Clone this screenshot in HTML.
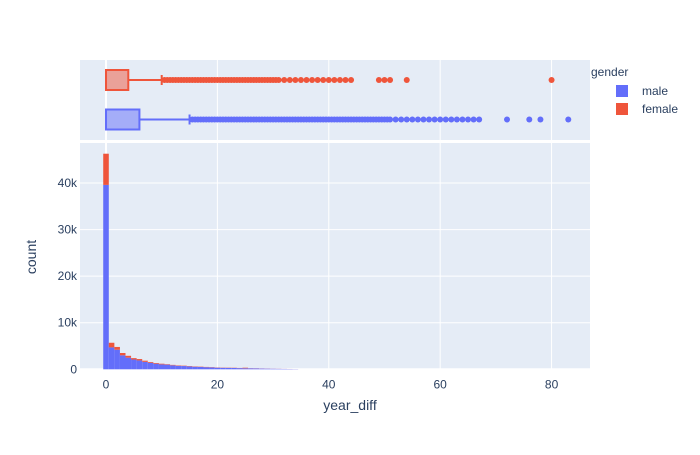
<!DOCTYPE html>
<html><head><meta charset="utf-8"><style>
body{margin:0;background:#fff;font-family:"Liberation Sans",sans-serif}
svg text{font-family:"Liberation Sans",sans-serif;fill:#2a3f5f}
</style></head><body>
<svg id="c" width="700" height="450" xmlns="http://www.w3.org/2000/svg"></svg>
<script>
const bins=[0,1,2,3,4,5,6,7,8,9,10,11,12,13,14,15,16,17,18,19,20,21,22,23,24,25,26,27,28,29,30,31,32,33,34];
const maleCounts=[39600,4700,4200,3000,2500,2100,1900,1600,1400,1200,1050,1000,850,750,700,600,550,500,450,400,350,320,300,280,250,220,200,180,160,140,120,100,80,60,40];
const femaleCounts=[6700,1000,600,500,400,300,300,250,170,150,150,100,100,90,80,80,70,70,60,60,50,50,50,50,40,120,30,30,20,20,15,15,10,10,5];
const xTicks=[0,20,40,60,80];
const yTicks=[0,10000,20000,30000,40000];
const yTickLabels=["0","10k","20k","30k","40k"];
const femaleBox={min:0,q1:0,median:0,q3:4,whisker:10};
const maleBox={min:0,q1:0,median:0,q3:6,whisker:15};
const femaleOutliers=[10.5,11,11.5,12,12.5,13,13.5,14,14.5,15,15.5,16,16.5,17,17.5,18,18.5,19,19.5,20,20.5,21,21.5,22,22.5,23,23.5,24,24.5,25,25.5,26,26.5,27,27.5,28,28.5,29,29.5,30,30.5,31,32,33,34,35,36,37,38,39,40,41,42,43,44,49,50,51,54,80];
const maleOutliers=[15.5,16,16.5,17,17.5,18,18.5,19,19.5,20,20.5,21,21.5,22,22.5,23,23.5,24,24.5,25,25.5,26,26.5,27,27.5,28,28.5,29,29.5,30,30.5,31,31.5,32,32.5,33,33.5,34,34.5,35,35.5,36,36.5,37,37.5,38,38.5,39,39.5,40,40.5,41,41.5,42,42.5,43,43.5,44,44.5,45,45.5,46,46.5,47,47.5,48,48.5,49,49.5,50,50.5,51,52,53,54,55,56,57,58,59,60,61,62,63,64,65,66,67,72,76,78,83];

const svg=document.getElementById('c');
const NS='http://www.w3.org/2000/svg';
function mk(t,a,p){const e=document.createElementNS(NS,t);for(const k in a)e.setAttribute(k,a[k]);(p||svg).appendChild(e);return e;}
const L=80,R=590,xmin=-4.67,xmax=86.9;
const X=v=>L+(v-xmin)/(xmax-xmin)*(R-L);
const hTop=143,hBot=369.3,ymax=48600;
const Y=v=>hBot-v/ymax*(hBot-hTop);
const C1='#636efa',C2='#EF553B';

let e;
e=mk('rect',{x:L,y:60,width:R-L,height:80,fill:'#e5ecf6'});

e=mk('rect',{x:L,y:hTop,width:R-L,height:hBot-hTop,fill:'#e5ecf6'});


xTicks.forEach(t=>{
  [[60,140],[hTop,hBot]].forEach(r=>{
    const g=mk('line',{x1:X(t),x2:X(t),y1:r[0],y2:r[1],stroke:'#fff','stroke-width':t===0?2:1});
    
  });
  const tx=mk('text',{x:X(t),y:hBot+19,'text-anchor':'middle','font-size':12});tx.textContent=t;
  
});
yTicks.forEach((t,i)=>{
  const g=mk('line',{x1:L,x2:R,y1:Y(t),y2:Y(t),stroke:'#fff','stroke-width':t===0?2:1});
  
  const tx=mk('text',{x:L-3,y:Y(t)+4,'text-anchor':'end','font-size':12});tx.textContent=yTickLabels[i];
  
});

bins.forEach((b,i)=>{
  const x0=X(b-0.5),w=X(b+0.5)-x0;
  const m=mk('rect',{x:x0,y:Y(maleCounts[i]),width:w,height:hBot-Y(maleCounts[i]),fill:C1});
  
  const top=maleCounts[i]+femaleCounts[i];
  const f=mk('rect',{x:x0,y:Y(top),width:w,height:Y(maleCounts[i])-Y(top),fill:C2});
  
});

function box(bx,outs,cy,col,fill,name){
  const h=20;
  const w=mk('line',{x1:X(bx.q3),x2:X(bx.whisker),y1:cy,y2:cy,stroke:col,'stroke-width':2});
  
  const cap=mk('line',{x1:X(bx.whisker),x2:X(bx.whisker),y1:cy-5,y2:cy+5,stroke:col,'stroke-width':2});
  
  const r=mk('rect',{x:X(bx.q1),y:cy-h/2,width:X(bx.q3)-X(bx.q1),height:h,fill:fill,stroke:col,'stroke-width':2});
  
  const md=mk('line',{x1:X(bx.median),x2:X(bx.median),y1:cy-h/2,y2:cy+h/2,stroke:col,'stroke-width':2});
  
  outs.forEach(o=>{
    const c=mk('circle',{cx:X(o),cy:cy,r:3,fill:col});
    
  });
}
box(femaleBox,femaleOutliers,80,C2,'rgba(239,85,59,0.5)','female');
box(maleBox,maleOutliers,119.5,C1,'rgba(99,110,250,0.5)','male');

e=mk('text',{x:350,y:410,'text-anchor':'middle','font-size':14});e.textContent='year_diff';

e=mk('text',{x:0,y:0,'text-anchor':'middle','font-size':14,transform:'translate(36,257) rotate(-90)'});e.textContent='count';


e=mk('text',{x:591,y:76,'font-size':12});e.textContent='gender';

[['male',C1,91],['female',C2,109]].forEach(d=>{
  const g=mk('g',{});
  
  mk('rect',{x:616,y:d[2]-6,width:12,height:12,fill:d[1]},g);
  const t=mk('text',{x:642,y:d[2]+4,'font-size':12},g);t.textContent=d[0];
});
</script>
</body></html>
